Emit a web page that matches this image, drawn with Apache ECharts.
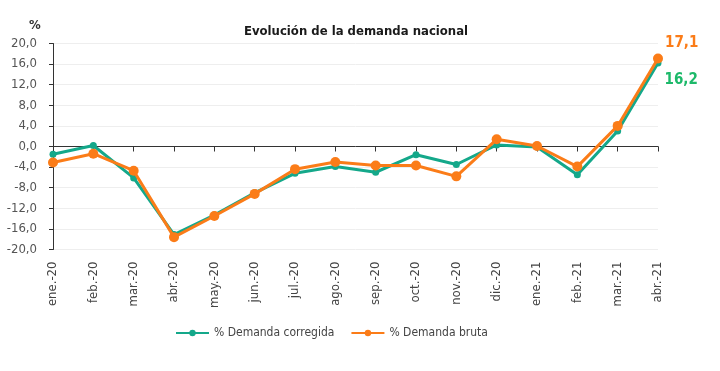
<!DOCTYPE html>
<html><head><meta charset="utf-8">
<script src="https://cdn.jsdelivr.net/npm/echarts@6/dist/echarts.min.js"></script>
<style>html,body{margin:0;padding:0;background:#fff}#c{width:720px;height:371px}</style>
</head><body><div id="c"></div>
<script>
const categories = ['ene.-20','feb.-20','mar.-20','abr.-20','may.-20','jun.-20','jul.-20','ago.-20','sep.-20','oct.-20','nov.-20','dic.-20','ene.-21','feb.-21','mar.-21','abr.-21'];
const corregida = [-1.5, 0.2, -6.1, -17.1, -13.3, -9.0, -5.2, -3.9, -5.0, -1.6, -3.5, 0.3, -0.1, -5.5, 3.0, 16.2];
const bruta = [-3.1, -1.4, -4.7, -17.6, -13.5, -9.2, -4.4, -3.0, -3.7, -3.7, -5.8, 1.4, 0.1, -3.9, 4.0, 17.1];
const seriesNames = ['% Demanda corregida', '% Demanda bruta'];
const titleText = 'Evolución de la demanda nacional';

const FONT = "'Liberation Sans Narrow', 'DejaVu Sans Condensed', sans-serif";
const GREEN = '#14a88a', GREEN_LBL = '#1db96a', ORANGE = '#fb7c18';
const fmt = v => v.toFixed(1).replace('.', ',');
function withLastLabel(arr, labelCfg) {
  return arr.map((v, i) => i === arr.length - 1 ? { value: v, label: Object.assign({ show: true, formatter: p => fmt(p.value) }, labelCfg) } : v);
}
const chart = echarts.init(document.getElementById('c'));
chart.setOption({
  animation: false,
  title: [
    { text: titleText, left: 351, top: 20, textAlign: 'center', textStyle: { fontFamily: FONT, fontSize: 13, fontWeight: 'bold', color: '#1a1a1a' } },
    { text: '%', left: 24, top: 14, textStyle: { fontFamily: FONT, fontSize: 13, fontWeight: 'bold', color: '#333' } }
  ],
  legend: {
    top: 322, left: 170, itemGap: 16, itemWidth: 33, itemHeight: 8,
    textStyle: { fontFamily: FONT, fontSize: 12, color: '#444' },
    data: seriesNames
  },
  grid: { left: 53, right: 62, top: 43.5, bottom: 121.5 },
  xAxis: {
    type: 'category', data: categories, boundaryGap: false,
    axisLine: { onZero: true, lineStyle: { color: '#333', width: 1 } },
    axisTick: { show: true, alignWithLabel: true, length: 5, inside: false, lineStyle: { color: '#333' } },
    axisLabel: { rotate: 90, fontFamily: FONT, fontSize: 13, color: '#444', margin: 12 },
    position: 'bottom'
  },
  yAxis: {
    type: 'value', min: -20, max: 20, interval: 4,
    axisLine: { show: true, lineStyle: { color: '#333' } },
    axisTick: { show: true, length: 4, lineStyle: { color: '#333' } },
    axisLabel: { fontFamily: FONT, fontSize: 13, color: '#555', margin: 16, formatter: v => fmt(v) },
    splitLine: { lineStyle: { color: '#eeeeee', width: 1 } }
  },
  series: [
    {
      name: seriesNames[0], type: 'line', data: withLastLabel(corregida, { position: 'right', offset: [-2, 17], color: GREEN_LBL, fontFamily: FONT, fontSize: 15, fontWeight: 'bold' }),
      symbol: 'circle', symbolSize: 7, lineStyle: { width: 3, color: GREEN }, itemStyle: { color: GREEN }, z: 2
    },
    {
      name: seriesNames[1], type: 'line', data: withLastLabel(bruta, { position: 'right', offset: [-3, -15], color: ORANGE, fontFamily: FONT, fontSize: 15, fontWeight: 'bold' }),
      symbol: 'circle', symbolSize: 10, lineStyle: { width: 3, color: ORANGE }, itemStyle: { color: ORANGE }, z: 3
    }
  ]
});
</script></body></html>
